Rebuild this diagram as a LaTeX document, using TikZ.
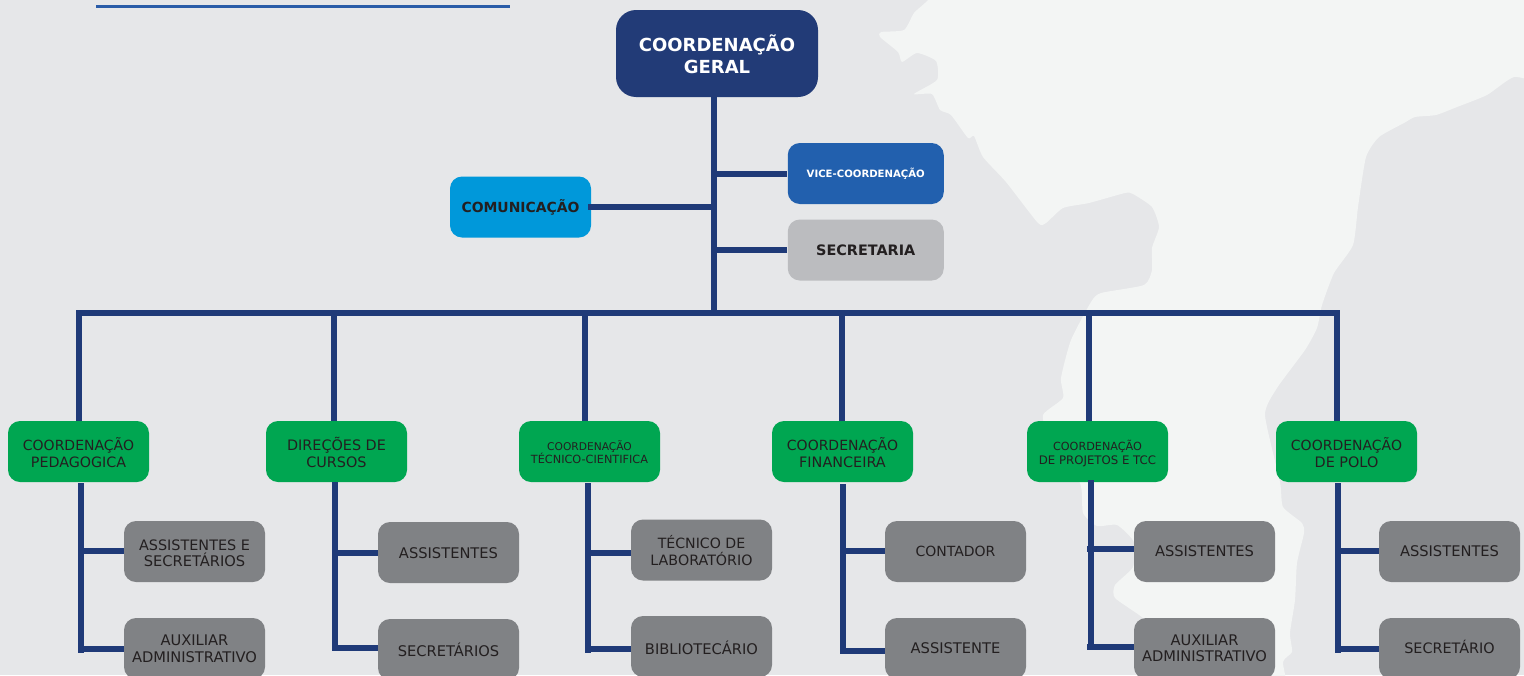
\documentclass[tikz,border=0pt]{standalone}
\usepackage{fontspec}
\setmainfont{DejaVu Sans}
\definecolor{bgc}{HTML}{E6E7E9}
\definecolor{mapc}{HTML}{F3F5F4}
\definecolor{navy}{HTML}{223B77}
\definecolor{linec}{HTML}{1F3A78}
\definecolor{rulec}{HTML}{2A5CA8}
\definecolor{vicec}{HTML}{2260AE}
\definecolor{commc}{HTML}{0098DA}
\definecolor{secc}{HTML}{BBBCBF}
\definecolor{greenc}{HTML}{00A651}
\definecolor{grayc}{HTML}{808285}
\definecolor{inkc}{HTML}{231F20}
% a text line centred #1 px below the centre of its node, taking no room of its own
\newcommand{\tline}[2]{\makebox[0pt][c]{\raisebox{\dimexpr-0.365em-0.75\dimexpr#1pt\relax\relax}[0pt][0pt]{#2}}}
\newcommand{\fsz}[2]{\fontsize{#1}{12}\selectfont #2}
\tikzset{
  boxbase/.style={rectangle,inner sep=0pt,text=inkc,font=\fontsize{10.5}{12}\selectfont},
  rootbox/.style={boxbase,rounded corners=15pt,fill=navy,text=white,minimum width=151.5pt,minimum height=65.25pt,font=\fontsize{13.5}{16}\bfseries\selectfont},
  sidebox/.style={boxbase,rounded corners=9pt,minimum height=45.75pt,font=\fontsize{10.8}{12}\bfseries\selectfont},
  greenbox/.style={boxbase,rounded corners=9pt,fill=greenc,minimum width=105.75pt,minimum height=45.75pt},
  graybox/.style={boxbase,rounded corners=9pt,fill=grayc,minimum width=105.75pt,minimum height=45.75pt,font=\fontsize{11}{12}\selectfont},
  smalltext/.style={font=\fontsize{8}{10}\selectfont},
  conn/.style={draw=linec,line width=4.5pt,line cap=butt,line join=miter},
}
\begin{document}
\begin{tikzpicture}[x=0.75pt,y=-0.75pt]
\useasboundingbox (0,0) rectangle (1524,675);
\clip (0,0) rectangle (1524,675);
\fill[bgc] (0,0) rectangle (1524,675);
% map in the background
\fill[mapc] plot[smooth cycle,tension=0.35] coordinates {
 (936,-15)(928,0)(914,13)(904,30)(881,32)(880,37)(898,52)(902,62)(917,53)(936,61)(937,80)(914,94)(932,94)
 (940,110)(951,115)(968,138)(974,136)(983,157)(1006,182)(1038,223)(1046,223)(1063,208)(1089,203)
 (1125,193)(1133,194)(1152,207)(1159,227)(1152,248)(1152,270)(1144,285)(1101,293)(1091,302)(1071,340)
 (1061,378)(1063,398)(1043,415)(1050,440)(1080,483)(1083,513)(1097,526)(1117,525)(1134,542)(1133,567)
 (1115,585)(1115,598)(1143,618)(1160,640)(1170,700)(1282,700)(1283,662)(1292,652)(1290,633)(1295,600)
 (1297,563)(1304,533)(1302,523)(1283,507)(1280,482)(1265,415)(1277,388)(1305,350)(1317,328)(1322,305)
 (1334,273)(1353,245)(1358,207)(1366,157)(1379,137)(1404,123)(1415,117)(1436,115)(1457,107)(1487,95)
 (1514,77)(1550,78)(1560,-20)};
% rule at the top
\coordinate (ruleL) at (96,6.5);
\coordinate (ruleR) at (510,6.5);
\draw[draw=rulec,line width=2.25pt] (ruleL) -- (ruleR);
% upper boxes
\node[rootbox] (root) at (717,53.5) {\tline{-8.4}{COORDENAÇÃO}\tline{13.6}{GERAL}};
\node[sidebox,fill=commc,minimum width=105.75pt,font=\fontsize{10.45}{12}\bfseries\selectfont] (comm) at (520.5,207) {\tline{0.3}{COMUNICAÇÃO}};
\node[sidebox,fill=vicec,text=white,minimum width=117pt,font=\fontsize{7.6}{9}\bfseries\selectfont] (vice) at (865.75,173.5) {\tline{0.2}{VICE-COORDENAÇÃO}};
\node[sidebox,fill=secc,minimum width=117pt] (sec) at (865.75,250) {\tline{0}{SECRETARIA}};
% green boxes
\node[greenbox] (g1) at (78.5,451.5) {\tline{-6.5}{COORDENAÇÃO}\tline{10.5}{\fsz{10.7}{PEDAGOGICA}}};
\node[greenbox] (g2) at (336.5,451.5) {\tline{-6.5}{\fsz{10.8}{DIREÇÕES DE}}\tline{10.5}{\fsz{10.8}{CURSOS}}};
\node[greenbox,smalltext] (g3) at (589.5,451.5) {\tline{-5.2}{COORDENAÇÃO}\tline{7.8}{\fsz{8.45}{TÉCNICO-CIENTIFICA}}};
\node[greenbox] (g4) at (842.5,451.5) {\tline{-6.5}{COORDENAÇÃO}\tline{10.5}{\fsz{10.8}{FINANCEIRA}}};
\node[greenbox,font=\fontsize{8.4}{10}\selectfont] (g5) at (1097.5,451.5) {\tline{-5.5}{COORDENAÇÃO}\tline{8.5}{\fsz{8.8}{DE PROJETOS E TCC}}};
\node[greenbox] (g6) at (1346.5,451.5) {\tline{-6.5}{COORDENAÇÃO}\tline{10.5}{\fsz{10.8}{DE POLO}}};
% gray boxes
\node[graybox] (a1) at (194.5,551.5) {\tline{-6.8}{\fsz{10.8}{ASSISTENTES E}}\tline{9.8}{SECRETÁRIOS}};
\node[graybox] (b1) at (194.5,648.5) {\tline{-8}{AUXILIAR}\tline{9}{ADMINISTRATIVO}};
\node[graybox] (a2) at (448.5,552.5) {\tline{0.2}{ASSISTENTES}};
\node[graybox] (b2) at (448.5,649.5) {\tline{1.5}{SECRETÁRIOS}};
\node[graybox] (a3) at (701.5,550) {\tline{-6.7}{\fsz{10.6}{TÉCNICO DE}}\tline{10.3}{\fsz{10.7}{LABORATÓRIO}}};
\node[graybox] (b3) at (701.5,646.5) {\tline{2.2}{BIBLIOTECÁRIO}};
\node[graybox] (a4) at (955.5,551.5) {\tline{-0.2}{\fsz{10.5}{CONTADOR}}};
\node[graybox] (b4) at (955.5,648.5) {\tline{-0.5}{ASSISTENTE}};
\node[graybox] (a5) at (1204.5,551.5) {\tline{-0.2}{ASSISTENTES}};
\node[graybox] (b5) at (1204.5,648.5) {\tline{-8.8}{AUXILIAR}\tline{7.8}{ADMINISTRATIVO}};
\node[graybox] (a6) at (1449.5,551.5) {\tline{-0.2}{ASSISTENTES}};
\node[graybox] (b6) at (1449.5,648.5) {\tline{-0.5}{\fsz{10.8}{SECRETÁRIO}}};
% trunk and bus
\coordinate (trunkA) at (714,174);
\coordinate (trunkB) at (714,207);
\coordinate (trunkC) at (714,250);
\coordinate (trunkD) at (714,313);
\coordinate (busL) at (76,313);
\coordinate (busR) at (1340,313);
\draw[conn] (root.south -| trunkD) -- (trunkD);
\draw[conn] (trunkA) -- (trunkA -| vice.west);
\draw[conn] (trunkC) -- (trunkC -| sec.west);
\coordinate (commEnd) at (588,207);
\draw[conn] (trunkB) -- (commEnd);
\draw[conn] (busL) -- (busR);
% drops from the bus to the green boxes
\foreach \n/\vx in {g1/79,g2/334,g3/585,g4/842,g5/1089,g6/1337}{
  \coordinate (drop) at (\vx,310);
  \draw[conn] (drop) -- (drop |- \n.north);
}
% columns: green box -> gray boxes
\foreach \g/\a/\b/\vx/\top/\ya/\yb/\bot/\st in {
  g1/a1/b1/81/483/551/649/653/81,
  g2/a2/b2/335/482/553/648/651/335,
  g3/a3/b3/588/483/553/649/653/588,
  g4/a4/b4/842.5/484/551/651/654/842.5,
  g5/a5/b5/1091/480/549/647/650/1087,
  g6/a6/b6/1338/483/551/649/653/1338}{
  \coordinate (vtop) at (\vx,\top);
  \coordinate (vbot) at (\vx,\bot);
  \coordinate (ja) at (\st,\ya);
  \coordinate (jb) at (\st,\yb);
  \draw[conn] (vtop) -- (vbot);
  \draw[conn] (ja) -- (ja -| \a.west);
  \draw[conn] (jb) -- (jb -| \b.west);
}
\end{tikzpicture}
\end{document}
